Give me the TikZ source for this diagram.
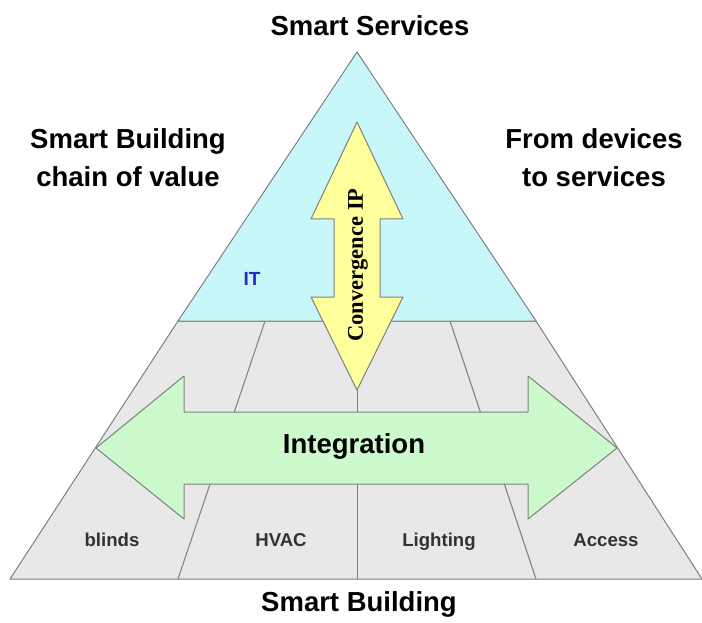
\documentclass[tikz,border=0pt]{standalone}
\usepackage{fontspec}
\setmainfont{Liberation Sans}
\newfontfamily\convfont{Liberation Serif}
\definecolor{itblue}{RGB}{200,247,250}
\definecolor{cellgray}{RGB}{232,232,232}
\definecolor{intgreen}{RGB}{205,250,205}
\definecolor{convyellow}{RGB}{255,255,155}
\definecolor{linegray}{RGB}{125,128,128}
\definecolor{celltext}{RGB}{50,50,50}
\definecolor{itlabel}{RGB}{40,40,200}

\begin{document}
\begin{tikzpicture}[x=1pt,y=-1pt,
  edge/.style={draw=linegray,line width=1pt,line join=round},
  heading/.style={font=\fontsize{27.5}{38}\selectfont\bfseries,align=center},
  cell/.style={font=\fontsize{18.6}{22}\selectfont\bfseries,text=celltext,anchor=base}]
\useasboundingbox (0,0) rectangle (702,623);
% lower part: devices
\draw[edge,fill=cellgray] (178,321) -- (536,321) -- (702,579) -- (10,579) -- cycle;
\draw[edge] (265,321) -- (178,579);
\draw[edge] (450,321) -- (536,579);
\draw[edge] (357,321) -- (357,579);
% upper part: IT
\draw[edge,fill=itblue] (357,52) -- (536,321) -- (178,321) -- cycle;
% convergence arrow
\draw[edge,fill=convyellow] (357,122) -- (403,219) -- (380,219) -- (380,297) -- (403,297)
  -- (357,390) -- (311,297) -- (334,297) -- (334,219) -- (311,219) -- cycle;
% integration arrow
\draw[edge,fill=intgreen] (96,448) -- (184,376) -- (184,412) -- (528,412) -- (528,376)
  -- (617,448) -- (528,519) -- (528,484) -- (184,484) -- (184,519) -- cycle;
\node[heading] (services) at (370,26) {Smart Services};
\node[heading] (chain) at (128,158) {Smart Building\\chain of value};
\node[heading] (devices) at (594,158) {From devices\\to services};
\node[heading] (building) at (359,604) {Smart Building};
\node[heading,anchor=base] (integration) at (354,453) {Integration};
\node[font=\fontsize{19}{22}\selectfont\bfseries,text=itlabel] (it) at (252,279) {IT};
\node[font=\convfont\fontsize{22.5}{26}\selectfont\bfseries,rotate=90] (convergence) at (358,265) {Convergence IP};
\node[cell] (blinds) at (112,546) {blinds};
\node[cell] (hvac) at (281,546) {HVAC};
\node[cell] (lighting) at (439,546) {Lighting};
\node[cell] (access) at (606,546) {Access};
\end{tikzpicture}
\end{document}
